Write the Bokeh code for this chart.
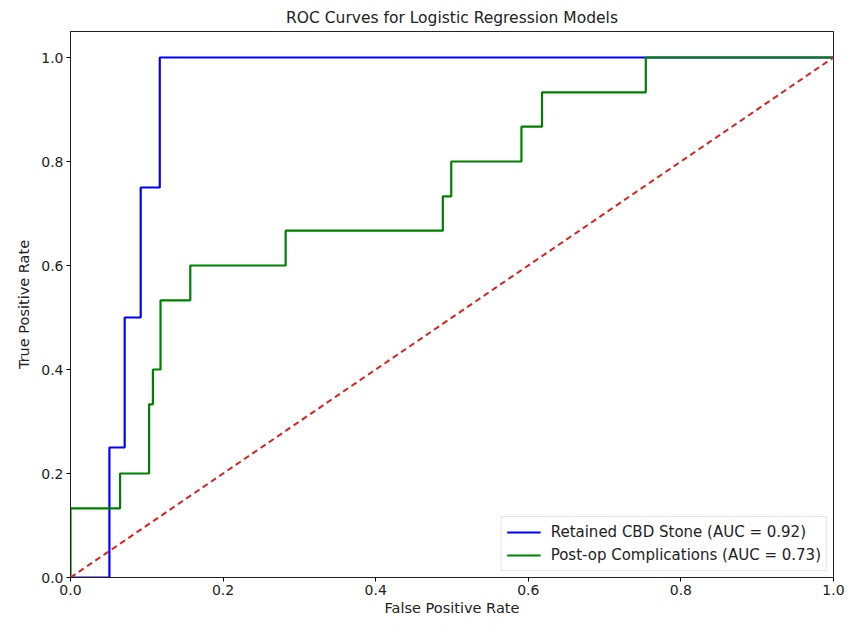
from bokeh.plotting import figure
from bokeh.models import FixedTicker, CustomJSTickFormatter, Legend, LegendItem, Range1d
from bokeh.embed import file_html
from bokeh.resources import INLINE

# Data
cbd_fpr = [0.0, 0.051, 0.051, 0.071, 0.071, 0.092, 0.092, 0.117, 0.117, 1.0]
cbd_tpr = [0.0, 0.0, 0.25, 0.25, 0.5, 0.5, 0.75, 0.75, 1.0, 1.0]
cbd_label = "Retained CBD Stone (AUC = 0.92)"

comp_fpr = [0.0, 0.0, 0.065, 0.065, 0.103, 0.103, 0.108, 0.108, 0.118, 0.118,
            0.157, 0.157, 0.282, 0.282, 0.488, 0.488, 0.499, 0.499, 0.591, 0.591,
            0.618, 0.618, 0.754, 0.754, 1.0]
comp_tpr = [0.0, 0.133, 0.133, 0.2, 0.2, 0.333, 0.333, 0.4, 0.4, 0.533,
            0.533, 0.6, 0.6, 0.667, 0.667, 0.733, 0.733, 0.8, 0.8, 0.867,
            0.867, 0.933, 0.933, 1.0, 1.0]
comp_label = "Post-op Complications (AUC = 0.73)"

chance_x = [0.0, 1.0]
chance_y = [0.0, 1.0]

ticks = [0.0, 0.2, 0.4, 0.6, 0.8, 1.0]

FONT = "DejaVu Sans"

p = figure(width=850, height=625, output_backend="svg", toolbar_location=None,
           x_range=Range1d(0, 1), y_range=Range1d(0, 1.05),
           title="ROC Curves for Logistic Regression Models",
           min_border_left=70, min_border_right=17, min_border_bottom=48, min_border_top=31)

p.title.align = "center"
p.title.text_font = FONT
p.title.text_font_size = "15.5px"
p.title.text_font_style = "normal"
p.title.text_color = "#222222"
p.title.standoff = 9

r1 = p.line(cbd_fpr, cbd_tpr, line_color="#0000ff", line_width=2.2)
r2 = p.line(comp_fpr, comp_tpr, line_color="#008000", line_width=2.2)
p.line(chance_x, chance_y, line_color="#e02020", line_width=2, line_dash="6 4")

p.xgrid.visible = False
p.ygrid.visible = False
p.outline_line_color = "#222222"
p.outline_line_width = 1

fmt = CustomJSTickFormatter(code="return tick.toFixed(1);")
for ax in (p.xaxis[0], p.yaxis[0]):
    ax.ticker = FixedTicker(ticks=ticks)
    ax.formatter = fmt
    ax.minor_tick_line_color = None
    ax.major_tick_out = 4
    ax.major_tick_in = 0
    ax.major_label_text_font = FONT
    ax.major_label_text_font_size = "14px"
    ax.major_label_text_color = "#222222"
    ax.major_label_standoff = 3
    ax.axis_label_text_font = FONT
    ax.axis_label_text_font_size = "14.5px"
    ax.axis_label_text_font_style = "normal"
    ax.axis_label_text_color = "#222222"
    ax.axis_line_color = "#222222"

p.xaxis.axis_label = "False Positive Rate"
p.yaxis.axis_label = "True Positive Rate"
p.xaxis.axis_label_standoff = 2
p.yaxis.axis_label_standoff = 6

legend = Legend(items=[LegendItem(label=cbd_label, renderers=[r1]),
                       LegendItem(label=comp_label, renderers=[r2])],
                location="bottom_right")
legend.label_text_font = FONT
legend.label_text_font_size = "15px"
legend.label_text_color = "#222222"
legend.border_line_color = "#cccccc"
legend.border_line_width = 1
legend.glyph_width = 34
legend.label_standoff = 10
legend.spacing = 3
legend.padding = 5
legend.margin = 6
legend.label_height = 20
legend.glyph_height = 20
p.add_layout(legend)

open("out.html", "w").write(file_html(p, INLINE))
